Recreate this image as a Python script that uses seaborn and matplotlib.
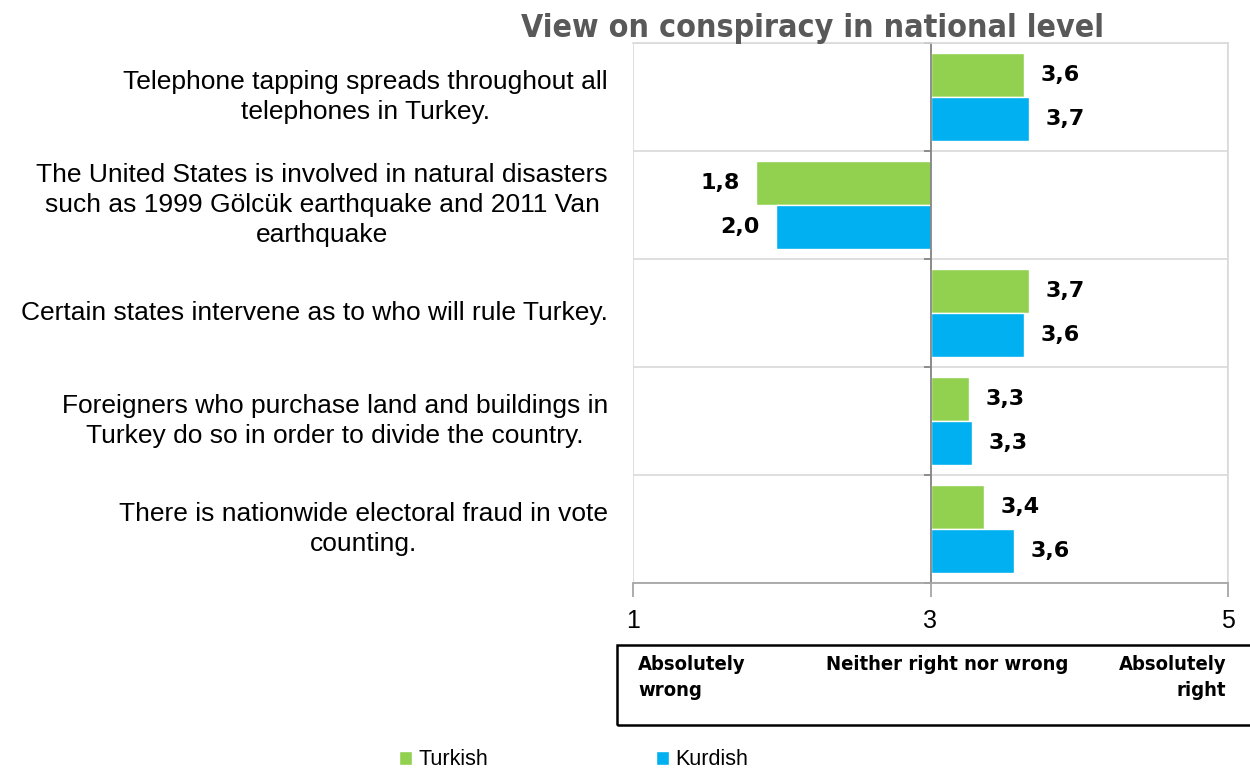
import pandas as pd
import matplotlib.pyplot as plt
import matplotlib.transforms as mtransforms
from matplotlib.patches import Rectangle
import seaborn as sns

# Survey statements and mean scores (1 = absolutely wrong, 5 = absolutely right)
statements = [
    "Telephone tapping spreads throughout all\ntelephones in Turkey.",
    "The United States is involved in natural disasters\nsuch as 1999 Gölcük earthquake and 2011 Van\nearthquake",
    "Certain states intervene as to who will rule Turkey.",
    "Foreigners who purchase land and buildings in\nTurkey do so in order to divide the country.",
    "There is nationwide electoral fraud in vote\ncounting.",
]
turkish = [3.63, 1.83, 3.66, 3.26, 3.36]
kurdish = [3.66, 1.96, 3.63, 3.28, 3.56]
groups = ["Turkish", "Kurdish"]
colors = ["#92D050", "#00B0F0"]
midpoint = 3
tick_values = [1, 3, 5]

df = pd.DataFrame({
    "statement": statements * 2,
    "group": [groups[0]] * len(statements) + [groups[1]] * len(statements),
    "score": turkish + kurdish,
})
df["offset"] = df["score"] - midpoint

sns.set_style("white")
plt.rcParams["font.family"] = ["Liberation Sans", "DejaVu Sans"]
plt.rcParams["text.color"] = "black"
plt.rcParams["xtick.color"] = "black"

fig = plt.figure(figsize=(12.5, 7.71), dpi=100)
ax = fig.add_axes([0.5064, 0.2438, 0.476, 0.7004])

sns.barplot(
    data=df, x="offset", y="statement", hue="group", orient="h",
    palette=colors, width=0.82, saturation=1, ax=ax,
)

# value labels with comma decimals
for container, vals in zip(ax.containers, [turkish, kurdish]):
    ax.bar_label(container, labels=[f"{v:.1f}".replace(".", ",") for v in vals],
                 padding=12, fontsize=16, fontweight="heavy", color="black",
                 family=["DejaVu Sans"])

ax.set_xlim(-2, 2)
ax.set_ylim(len(statements) - 0.5, -0.5)
ax.set_xticks([v - midpoint for v in tick_values])
ax.set_xticklabels([str(v) for v in tick_values], fontsize=18)
ax.set_xlabel("")
ax.set_ylabel("")

# vertical axis sits at the midpoint
ax.spines["left"].set_position(("data", 0))
ax.spines["left"].set_color("#868686")
ax.spines["left"].set_linewidth(1.3)
ax.spines["bottom"].set_color("#a6a6a6")
ax.spines["bottom"].set_linewidth(1.3)
for s in ["top", "right"]:
    ax.spines[s].set_color("#d9d9d9")
    ax.spines[s].set_linewidth(1.2)

ax.set_yticks(range(len(statements)))
ax.set_yticklabels([])
ax.set_yticks([i - 0.5 for i in range(len(statements) + 1)], minor=True)
ax.tick_params(axis="y", which="major", length=0)
ax.tick_params(axis="y", which="minor", length=5, color="#868686", width=1.3, left=True)
ax.tick_params(axis="x", length=10, color="#a6a6a6", labelcolor="black", width=1.3, pad=9, bottom=True)
ax.grid(axis="y", which="minor", color="#d9d9d9", linewidth=1.2)
ax.grid(axis="x", which="major", color="#d9d9d9", linewidth=1.2)
ax.set_axisbelow(True)

# statement labels to the left of the plot area
trans = mtransforms.blended_transform_factory(fig.transFigure, ax.transData)
for i, s in enumerate(statements):
    ax.text(0.4864, i, s, transform=trans, ha="right", va="center",
            multialignment="center", fontsize=19, linespacing=1.3)

cond = dict(family=["DejaVu Sans"], fontstretch="condensed")
fig.text(0.65, 0.963, "View on conspiracy in national level", ha="center", va="center",
         fontsize=23, fontweight="heavy", color="#595959", **cond)

# scale legend box
fig.add_artist(Rectangle((0.4936, 0.0597), 0.52, 0.1038, transform=fig.transFigure,
                         fill=False, lw=1.8, ec="black"))
box_font = dict(fontsize=14.5, fontweight="bold", va="top", linespacing=1.45, **cond)
fig.text(0.5104, 0.150, "Absolutely\nwrong", ha="left", **box_font)
fig.text(0.758, 0.150, "Neither right nor wrong", ha="center", **box_font)
fig.text(0.981, 0.150, "Absolutely\nright", ha="right", multialignment="right", **box_font)

sns.move_legend(ax, "center", bbox_to_anchor=(0.459, 0.0143), bbox_transform=fig.transFigure,
                ncol=2, frameon=False, title=None, fontsize=15.5, columnspacing=7.8,
                handlelength=0.6, handleheight=0.6, handletextpad=0.3)

fig.savefig("out.png", dpi=100)
